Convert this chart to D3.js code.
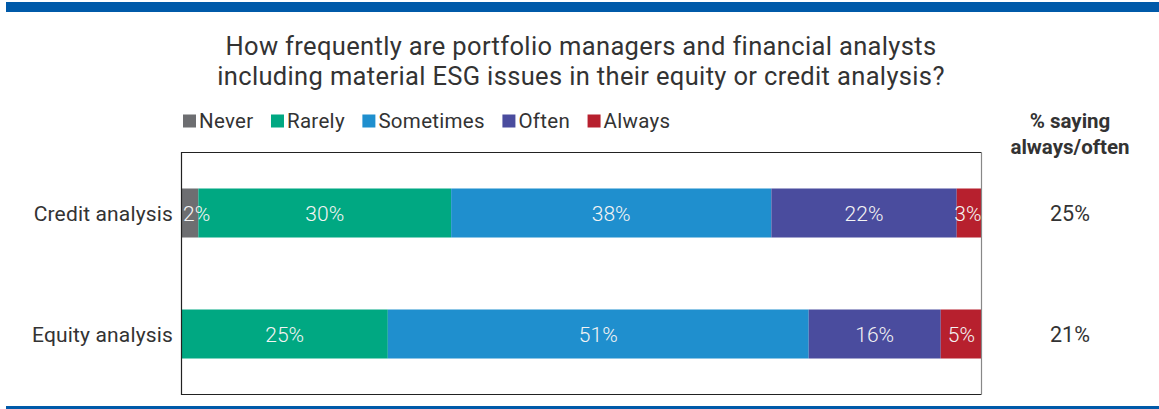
<!DOCTYPE html>
<html>
<head>
<meta charset="utf-8">
<script src="https://cdn.jsdelivr.net/npm/d3@7"></script>
<style>
  body { margin: 0; background: #fff; }
  svg { display: block; font-family: Roboto, sans-serif; }
</style>
</head>
<body>
<svg class="chart"></svg>
<script>
const titleLines = [
    "How frequently are portfolio managers and financial analysts",
    "including material ESG issues in their equity or credit analysis?"
];
const categories = ["Credit analysis", "Equity analysis"];
const series = ["Never", "Rarely", "Sometimes", "Often", "Always"];
const never = [2, 0];
const rarely = [30, 25];
const sometimes = [38, 51];
const often = [22, 16];
const always = [3, 5];
const sayingHeader = ["% saying", "always/often"];
const sayingValues = [25, 21];

const colors = ["#6d6e71", "#00a882", "#1f8fce", "#4a4c9e", "#b7202e"];

const data = categories.map((c, i) => ({
    category: c,
    Never: never[i],
    Rarely: rarely[i],
    Sometimes: sometimes[i],
    Often: often[i],
    Always: always[i]
}));

const width = 1159, height = 409;
const box = { left: 181.5, top: 152.5, right: 981.5, bottom: 394.5 };

const svg = d3.select(".chart")
    .attr("width", width)
    .attr("height", height);

// blue rules top and bottom
svg.append("rect").attr("x", 6).attr("y", 2).attr("width", width - 6).attr("height", 10).attr("fill", "#005aa9");
svg.append("rect").attr("x", 6).attr("y", 406).attr("width", width - 6).attr("height", 3).attr("fill", "#005aa9");

// title
svg.append("g")
    .attr("font-size", 25.5)
    .attr("letter-spacing", 0.35)
    .attr("fill", "#333")
    .attr("text-anchor", "middle")
    .selectAll("text")
    .data(titleLines)
    .join("text")
    .attr("x", 581)
    .attr("y", (d, i) => 55 + i * 29.5)
    .text(d => d);

// legend
const legend = svg.append("g").attr("font-size", 20.5).attr("letter-spacing", 0.3).attr("fill", "#333");
let lx = 183;
series.forEach((s, i) => {
    legend.append("rect")
        .attr("x", lx).attr("y", 114.5)
        .attr("width", 13).attr("height", 13)
        .attr("fill", colors[i]);
    const t = legend.append("text")
        .attr("x", lx + 16).attr("y", 127.5)
        .text(s);
    lx += 16 + t.node().getComputedTextLength() + 17.5;
});

const stacked = d3.stack()
    .keys(series)
    .offset(d3.stackOffsetExpand)(data);

const x = d3.scaleLinear()
    .domain([0, 1])
    .range([box.left, box.right + 0.5]);

const y = d3.scaleBand()
    .domain(categories)
    .range([box.top, box.bottom])
    .paddingInner(0.595)
    .paddingOuter(0.2975);

const layer = svg.selectAll("g.layer")
    .data(stacked)
    .join("g")
    .attr("class", "layer")
    .attr("fill", (d, i) => colors[i]);

layer.selectAll("rect")
    .data(d => d)
    .join("rect")
    .attr("x", d => x(d[0]))
    .attr("y", d => y(d.data.category))
    .attr("width", d => x(d[1]) - x(d[0]))
    .attr("height", y.bandwidth());

// value labels
const labels = svg.append("g")
    .attr("font-size", 21)
    .attr("font-weight", 300)
    .attr("fill", "#f4f4f4")
    .attr("text-anchor", "middle");

stacked.forEach(s => {
    s.forEach(d => {
        const v = d.data[s.key];
        if (!v) return;
        const t = labels.append("text")
            .attr("y", y(d.data.category) + y.bandwidth() / 2)
            .attr("dy", "0.36em")
            .text(v + "%");
        const w = t.node().getComputedTextLength();
        let cx = (x(d[0]) + x(d[1])) / 2;
        cx = Math.max(cx, box.left + 1.5 + w / 2);
        cx = Math.min(cx, box.right - w / 2);
        t.attr("x", cx);
    });
});

// frame
svg.append("path")
    .attr("d", `M${box.right},${box.top}H${box.left}V${box.bottom}H${box.right}`)
    .attr("fill", "none")
    .attr("stroke", "#222")
    .attr("stroke-width", 1.2);
svg.append("line")
    .attr("x1", box.right).attr("x2", box.right)
    .attr("y1", box.top).attr("y2", box.bottom)
    .attr("stroke", "#888")
    .attr("stroke-width", 1.2);

// category labels
svg.append("g")
    .attr("font-size", 21)
    .attr("letter-spacing", 0.15)
    .attr("fill", "#333")
    .attr("text-anchor", "end")
    .selectAll("text")
    .data(categories)
    .join("text")
    .attr("x", 173)
    .attr("y", d => y(d) + y.bandwidth() / 2)
    .attr("dy", "0.36em")
    .text(d => d);

// right column
svg.append("g")
    .attr("font-size", 20.5)
    .attr("font-weight", "bold")
    .attr("fill", "#333")
    .attr("text-anchor", "middle")
    .selectAll("text")
    .data(sayingHeader)
    .join("text")
    .attr("x", 1070)
    .attr("y", (d, i) => 128 + i * 25.5)
    .text(d => d);

svg.append("g")
    .attr("font-size", 21.5)
    .attr("fill", "#333")
    .attr("text-anchor", "middle")
    .selectAll("text")
    .data(sayingValues)
    .join("text")
    .attr("x", 1070)
    .attr("y", (d, i) => y(categories[i]) + y.bandwidth() / 2)
    .attr("dy", "0.36em")
    .text(d => d + "%");
</script>
</body>
</html>
